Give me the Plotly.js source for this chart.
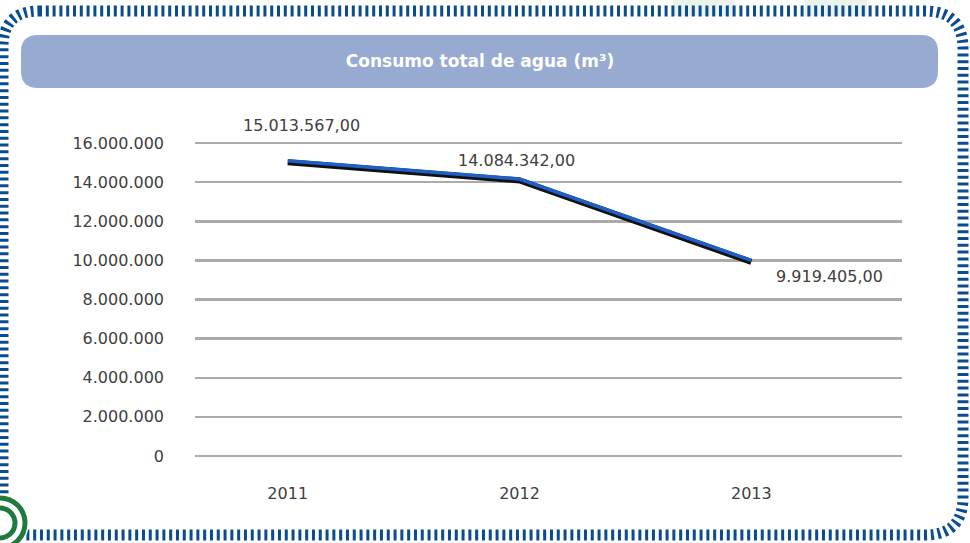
<!DOCTYPE html>
<html>
<head>
<meta charset="utf-8">
<script src="https://cdn.plot.ly/plotly-3.0.1.min.js"></script>
<style>
  html, body { margin: 0; padding: 0; background: #ffffff; }
  #chart { width: 970px; height: 543px; }
</style>
</head>
<body>
<div id="chart"></div>
<script>
// ---- data ----
const years = ['2011', '2012', '2013'];
const consumo = [15013567.00, 14084342.00, 9919405.00];
const yTicks = [0, 2000000, 4000000, 6000000, 8000000, 10000000, 12000000, 14000000, 16000000];
const chartTitle = 'Consumo total de agua (m³)';

// ---- geometry helpers (layout only) ----
const W = 970, H = 543;
const L = 195, R = 902, T = 141, B = 458;
const pw = R - L, ph = B - T;
const px = x => (x - L) / pw;
const py = y => (B - y) / ph;
const P = (x, y) => px(x).toFixed(5) + ',' + py(y).toFixed(5);

function roundRect(x0, y0, x1, y1, rtl, rtr, rbr, rbl) {
  return 'M' + P(x0 + rtl, y0) +
    ' L' + P(x1 - rtr, y0) +
    ' Q' + P(x1, y0) + ' ' + P(x1, y0 + rtr) +
    ' L' + P(x1, y1 - rbr) +
    ' Q' + P(x1, y1) + ' ' + P(x1 - rbr, y1) +
    ' L' + P(x0 + rbl, y1) +
    ' Q' + P(x0, y1) + ' ' + P(x0, y1 - rbl) +
    ' L' + P(x0, y0 + rtl) +
    ' Q' + P(x0, y0) + ' ' + P(x0 + rtl, y0) + ' Z';
}
function circ(cx, cy, r, color, width, fill) {
  return {type: 'circle', xref: 'paper', yref: 'paper',
    x0: px(cx - r), x1: px(cx + r), y0: py(cy + r), y1: py(cy - r),
    line: {color: color, width: width}, fillcolor: fill || 'rgba(0,0,0,0)', layer: 'above'};
}

function fmtES(v) {
  const parts = v.toFixed(2).split('.');
  const intPart = parts[0].replace(/\B(?=(\d{3})+(?!\d))/g, '.');
  return intPart + ',' + parts[1];
}

const FONT = 'DejaVu Sans, sans-serif';
const TXT = '#404040';
const yMax = 16000000;
const pad = 2 * yMax / (ph - 4);        // 2px padding so edge gridlines show
const yLo = -pad, yHi = yMax + pad;
const shift = 1.5 * (yHi - yLo) / ph;   // pixel offset for line shadow

const traces = [
  {x: years, y: consumo, type: 'scatter', mode: 'lines', xaxis: 'x', yaxis: 'y',
   line: {color: '#111111', width: 6}, hoverinfo: 'skip', showlegend: false},
  {x: years, y: consumo, type: 'scatter', mode: 'lines', xaxis: 'x', yaxis: 'y2',
   line: {color: '#1F5FC8', width: 3.5}, hoverinfo: 'skip', showlegend: false}
];

const labelOffsets = [[14, 37], [-3, 20], [78, -15]];
const annotations = years.map((yr, i) => ({
  x: i, y: consumo[i], xref: 'x', yref: 'y', text: fmtES(consumo[i]),
  showarrow: false, xshift: labelOffsets[i][0], yshift: labelOffsets[i][1],
  xanchor: 'center', yanchor: 'middle',
  font: {family: FONT, size: 16, color: TXT}
}));

const shapes = [
  // faint green background blocks at top
  {type: 'rect', xref: 'paper', yref: 'paper', x0: px(673), x1: px(735), y0: py(16), y1: py(0),
   fillcolor: '#E9F3EC', line: {width: 0}, layer: 'below'},
  {type: 'rect', xref: 'paper', yref: 'paper', x0: px(805), x1: px(867), y0: py(16), y1: py(0),
   fillcolor: '#E9F3EC', line: {width: 0}, layer: 'below'},
  // title bar
  {type: 'path', xref: 'paper', yref: 'paper', path: roundRect(21, 35, 938, 88, 17, 17, 17, 17),
   fillcolor: '#97AAD2', line: {width: 0}, layer: 'below'},
  // striped border
  {type: 'path', xref: 'paper', yref: 'paper', path: roundRect(3, 11, 963, 535, 36, 38, 38, 0),
   fillcolor: 'rgba(0,0,0,0)', line: {color: '#0B4C8E', width: 11, dash: '3px,3.8px'}, layer: 'above'},
  // logo at bottom-left
  circ(0, 523, 29, '#ffffff', 0, '#ffffff'),
  circ(0, 523, 25, '#1E7B3B', 5),
  circ(0, 523, 15, '#1E7B3B', 5)
];

const layout = {
  width: W, height: H,
  margin: {l: L, r: W - R, t: T, b: H - B, pad: 0},
  paper_bgcolor: '#ffffff', plot_bgcolor: '#ffffff',
  separators: ',.',
  showlegend: false,
  title: {text: '<b>' + chartTitle + '</b>', x: 480 / W, xref: 'container', xanchor: 'center',
          y: 1 - 61 / H, yref: 'container', yanchor: 'middle',
          font: {family: FONT, size: 17, color: '#ffffff'}},
  xaxis: {type: 'category', range: [-0.4, 2.65], showgrid: false, zeroline: false, showline: false,
          ticks: '', ticklabelstandoff: 24, tickfont: {family: FONT, size: 16, color: TXT}, fixedrange: true},
  yaxis: {range: [yLo, yHi], tickvals: yTicks, tickformat: ',d', showgrid: true, gridcolor: '#ABABAB',
          gridwidth: 2.5, zeroline: false, showline: false, ticks: '', ticklabelstandoff: 30,
          tickfont: {family: FONT, size: 16, color: TXT}, fixedrange: true},
  yaxis2: {range: [yLo - shift, yHi - shift], overlaying: 'y', visible: false, showgrid: false,
           zeroline: false, fixedrange: true},
  annotations: annotations,
  shapes: shapes
};

Plotly.newPlot('chart', traces, layout, {displayModeBar: false, staticPlot: true});
</script>
</body>
</html>
